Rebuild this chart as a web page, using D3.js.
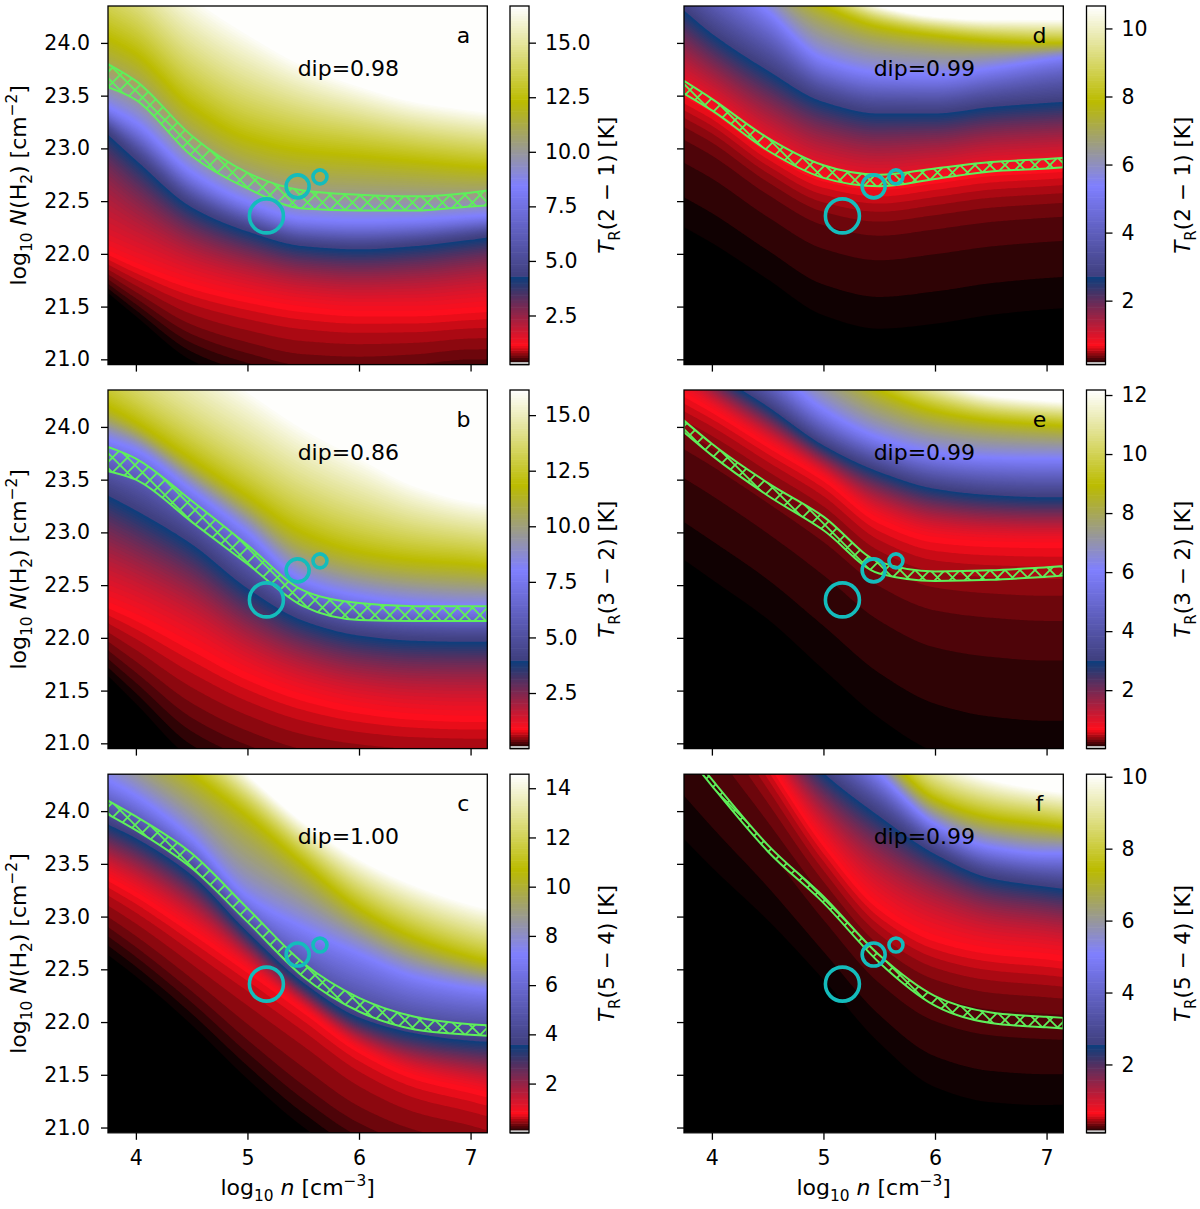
<!DOCTYPE html>
<html><head><meta charset="utf-8">
<script src="https://cdn.jsdelivr.net/npm/d3@7"></script>
<style>
body{margin:0;background:#fff}
svg{display:block}
text{font-family:"DejaVu Sans",sans-serif;fill:#000}
</style>
</head><body>
<svg id="fig" width="1200" height="1209"></svg>
<script>
// ---------- data ----------
const xNodes = [3.75, 4.0, 4.5, 5.0, 5.5, 6.0, 6.5, 7.0, 7.15];   // log10 n nodes for the isolines
const xDomain = [3.75, 7.15];
const yDomain = [20.95, 24.35];
const xTicks = [4, 5, 6, 7];
const yTicks = [21.0, 21.5, 22.0, 22.5, 23.0, 23.5, 24.0];

// Panel a : T_R(2-1)   (isoline T levels and their log N positions at xNodes)
const levelsA = [0.33, 0.58, 1.15, 4.36, 8.47, 12.33, 16.68];
const isoA = [
  [21.66, 21.45, 21.05, 20.85, 20.72, 20.70, 20.75, 20.80, 20.80],
  [21.76, 21.58, 21.24, 21.06, 20.94, 20.92, 20.95, 21.00, 21.00],
  [22.00, 21.88, 21.68, 21.55, 21.46, 21.42, 21.42, 21.45, 21.46],
  [23.14, 22.90, 22.45, 22.22, 22.08, 22.05, 22.08, 22.14, 22.16],
  [23.40, 23.25, 22.78, 22.50, 22.34, 22.32, 22.33, 22.36, 22.37],
  [24.05, 23.90, 23.40, 23.10, 22.98, 22.93, 22.88, 22.83, 22.82],
  [25.10, 24.90, 24.45, 24.10, 23.80, 23.60, 23.45, 23.37, 23.35]
];
const bandHiA = [23.80, 23.64, 23.12, 22.77, 22.60, 22.56, 22.545, 22.58, 22.60];
const bandLoA = [23.58, 23.46, 22.93, 22.62, 22.43, 22.41, 22.41, 22.45, 22.46];

// Panel b : T_R(3-2)
const levelsB = [0.08, 0.32, 0.89, 4.03, 8.07, 11.86, 16.13];
const isoB = [
  [21.70, 21.45, 20.95, 20.70, 20.55, 20.50, 20.50, 20.50, 20.50],
  [21.88, 21.67, 21.24, 20.98, 20.81, 20.74, 20.72, 20.72, 20.72],
  [22.30, 22.18, 21.90, 21.62, 21.42, 21.30, 21.24, 21.22, 21.22],
  [23.36, 23.22, 22.90, 22.48, 22.17, 22.03, 21.98, 21.97, 21.97],
  [23.88, 23.78, 23.40, 23.00, 22.55, 22.40, 22.33, 22.30, 22.30],
  [24.20, 24.05, 23.70, 23.35, 23.00, 22.82, 22.74, 22.70, 22.68],
  [25.30, 25.10, 24.70, 24.35, 24.00, 23.72, 23.45, 23.30, 23.28]
];
const bandHiB = [23.81, 23.70, 23.30, 22.88, 22.45, 22.33, 22.30, 22.30, 22.30];
const bandLoB = [23.58, 23.50, 23.10, 22.70, 22.30, 22.17, 22.16, 22.16, 22.16];

// Panel c : T_R(5-4)
const levelsC = [0.07, 0.29, 0.80, 3.64, 7.29, 10.71, 14.57];
const isoC = [
  [22.70, 22.50, 22.05, 21.55, 21.10, 20.75, 20.55, 20.45, 20.42],
  [22.90, 22.71, 22.29, 21.83, 21.40, 21.04, 20.83, 20.72, 20.68],
  [23.35, 23.20, 22.85, 22.48, 22.10, 21.72, 21.47, 21.34, 21.30],
  [23.88, 23.75, 23.40, 22.86, 22.38, 22.05, 21.90, 21.83, 21.82],
  [24.30, 24.15, 23.75, 23.20, 22.90, 22.65, 22.43, 22.32, 22.30],
  [24.90, 24.70, 24.35, 23.95, 23.50, 23.08, 22.80, 22.62, 22.58],
  [25.50, 25.30, 24.80, 24.35, 23.90, 23.55, 23.30, 23.12, 23.08]
];
const bandHiC = [24.10, 23.95, 23.60, 23.08, 22.56, 22.23, 22.05, 21.98, 21.97];
const bandLoC = [23.97, 23.82, 23.46, 22.95, 22.43, 22.10, 21.93, 21.88, 21.87];

// Panel d : T_R(2-1)
const levelsD = [0.17, 0.33, 0.70, 2.76, 5.39, 7.87, 10.66];
const isoD = [
  [22.45, 22.30, 21.95, 21.62, 21.50, 21.55, 21.63, 21.68, 21.69],
  [23.08, 22.93, 22.56, 22.27, 22.17, 22.23, 22.30, 22.34, 22.35],
  [23.50, 23.35, 22.97, 22.70, 22.62, 22.68, 22.75, 22.78, 22.79],
  [24.32, 24.10, 23.75, 23.45, 23.34, 23.34, 23.40, 23.44, 23.45],
  [24.90, 24.70, 24.30, 23.85, 23.72, 23.70, 23.76, 23.84, 23.86],
  [25.50, 25.20, 24.70, 24.35, 24.15, 24.07, 24.02, 24.00, 24.00],
  [26.00, 25.70, 25.10, 24.60, 24.35, 24.25, 24.22, 24.22, 24.22]
];
const bandHiD = [23.64, 23.47, 23.10, 22.84, 22.75, 22.81, 22.87, 22.90, 22.91];
const bandLoD = [23.52, 23.36, 22.98, 22.72, 22.64, 22.71, 22.78, 22.81, 22.82];

// Panel e : T_R(3-2)
const levelsE = [0.08, 0.26, 0.69, 3.06, 6.10, 8.95, 12.17];
const isoE = [
  [23.00, 22.82, 22.45, 22.00, 21.55, 21.25, 21.12, 21.08, 21.08],
  [23.78, 23.62, 23.27, 22.90, 22.48, 22.25, 22.18, 22.15, 22.15],
  [24.30, 24.15, 23.82, 23.50, 23.10, 22.92, 22.88, 22.87, 22.87],
  [24.80, 24.55, 24.20, 23.83, 23.58, 23.42, 23.36, 23.34, 23.34],
  [25.30, 25.00, 24.60, 24.17, 23.90, 23.76, 23.71, 23.70, 23.70],
  [26.00, 25.70, 25.10, 24.70, 24.35, 24.15, 24.06, 24.02, 24.01],
  [26.50, 26.20, 25.60, 25.10, 24.70, 24.45, 24.30, 24.25, 24.24]
];
const bandHiE = [24.06, 23.84, 23.47, 23.15, 22.72, 22.63, 22.64, 22.67, 22.68];
const bandLoE = [23.95, 23.73, 23.35, 23.02, 22.61, 22.54, 22.55, 22.58, 22.59];

// Panel f : T_R(5-4)
const levelsF = [0.15, 0.30, 0.65, 2.59, 5.09, 7.43, 10.07];
const isoF = [
  [24.04, 23.75, 23.20, 22.60, 22.00, 21.60, 21.46, 21.43, 21.43],
  [24.95, 24.60, 23.90, 23.19, 22.59, 22.25, 22.12, 22.08, 22.07],
  [25.70, 25.30, 24.47, 23.68, 23.08, 22.78, 22.66, 22.61, 22.59],
  [26.00, 25.60, 24.90, 24.37, 23.96, 23.60, 23.37, 23.29, 23.27],
  [26.40, 26.00, 25.30, 24.80, 24.35, 23.88, 23.66, 23.60, 23.60],
  [26.80, 26.40, 25.70, 25.15, 24.60, 24.12, 23.94, 23.87, 23.85],
  [27.30, 26.90, 26.20, 25.60, 25.05, 24.50, 24.30, 24.20, 24.18]
];
const bandHiF = [24.63, 24.30, 23.68, 23.19, 22.635, 22.245, 22.09, 22.05, 22.04];
const bandLoF = [24.57, 24.24, 23.62, 23.13, 22.565, 22.155, 21.99, 21.95, 21.94];

// colour ranges of the colour bars
const cbRanges = [[0.25, 16.68], [0.0, 16.13], [0.0, 14.57], [0.12, 10.66], [0.02, 12.17], [0.1, 10.07]];
const cbTickSets = [
  [2.5, 5.0, 7.5, 10.0, 12.5, 15.0],
  [2.5, 5.0, 7.5, 10.0, 12.5, 15.0],
  [2, 4, 6, 8, 10, 12, 14],
  [2, 4, 6, 8, 10],
  [2, 4, 6, 8, 10, 12],
  [2, 4, 6, 8, 10]
];
const cbFormats = [".1f", ".1f", "d", "d", "d", "d"];
const transitions = ["2 − 1", "3 − 2", "5 − 4", "2 − 1", "3 − 2", "5 − 4"];
const dips = ["0.98", "0.86", "1.00", "0.99", "0.99", "0.99"];
const panelLetters = ["a", "b", "c", "d", "e", "f"];

// observed positions (circles)
const circleX = [5.17, 5.45, 5.65];
const circleY = [22.36, 22.64, 22.73];

// ---------- styling / layout ----------
const colX0 = [108, 684], axW = 379.3;
const rowY0 = [6, 390, 774.2], axH = 358.6;
const cbX0 = [510, 1086.5], cbW = 19;
const circleR = [17, 11.5, 7];
const N_LEVELS = 150, GRID = 2;
const FS_TICK = 20.5, FS_LABEL = 22, FS_CB = 21.5, FS_DIP = 22;
const green = "#5ef05a", cyan = "#14bcbc";

const panels = [
  {levels: levelsA, iso: isoA, hi: bandHiA, lo: bandLoA, col: 0, row: 0},
  {levels: levelsB, iso: isoB, hi: bandHiB, lo: bandLoB, col: 0, row: 1},
  {levels: levelsC, iso: isoC, hi: bandHiC, lo: bandLoC, col: 0, row: 2},
  {levels: levelsD, iso: isoD, hi: bandHiD, lo: bandLoD, col: 1, row: 0},
  {levels: levelsE, iso: isoE, hi: bandHiE, lo: bandLoE, col: 1, row: 1},
  {levels: levelsF, iso: isoF, hi: bandHiF, lo: bandLoF, col: 1, row: 2}
];

// matplotlib gist_stern colormap
function gistStern(t) {
  t = Math.max(0, Math.min(1, t));
  let r;
  if (t < 0.0547) r = t / 0.0547;
  else if (t < 0.25) r = 1 + (t - 0.0547) * (0.027 - 1) / (0.25 - 0.0547);
  else r = t;
  const g = t;
  let b;
  if (t < 0.5) b = 2 * t;
  else if (t < 0.735) b = 1 - (t - 0.5) / 0.235;
  else b = (t - 0.735) / 0.265;
  return d3.rgb(r * 255, g * 255, b * 255).formatHex();
}

// monotone cubic (Fritsch-Carlson) through given nodes, linear extrapolation outside
function monotone(xs, ys) {
  const n = xs.length, h = [], d = [], m = new Array(n);
  for (let i = 0; i < n - 1; i++) { h[i] = xs[i + 1] - xs[i]; d[i] = (ys[i + 1] - ys[i]) / h[i]; }
  m[0] = d[0]; m[n - 1] = d[n - 2];
  for (let i = 1; i < n - 1; i++) {
    if (d[i - 1] * d[i] <= 0) m[i] = 0;
    else { const w1 = 2 * h[i] + h[i - 1], w2 = h[i] + 2 * h[i - 1]; m[i] = (w1 + w2) / (w1 / d[i - 1] + w2 / d[i]); }
  }
  return x => {
    if (x <= xs[0]) return ys[0] + (x - xs[0]) * m[0];
    if (x >= xs[n - 1]) return ys[n - 1] + (x - xs[n - 1]) * m[n - 1];
    let i = 0; while (x > xs[i + 1]) i++;
    const t = (x - xs[i]) / h[i], t2 = t * t, t3 = t2 * t;
    return (2 * t3 - 3 * t2 + 1) * ys[i] + (t3 - 2 * t2 + t) * h[i] * m[i] + (-2 * t3 + 3 * t2) * ys[i + 1] + (t3 - t2) * h[i] * m[i + 1];
  };
}

const svg = d3.select("#fig");
const defs = svg.append("defs");
const hatch = defs.append("pattern").attr("id", "hatch").attr("patternUnits", "userSpaceOnUse")
  .attr("width", 15).attr("height", 15);
hatch.append("path").attr("d", "M-2,-2L17,17M-2,17L17,-2M-2,13L2,17M13,-2L17,2M-2,2L2,-2M13,17L17,13")
  .attr("stroke", green).attr("stroke-width", 1.8).attr("fill", "none");

function richText(sel, parts, fs) {
  let shift = 0;
  parts.forEach(p => {
    const target = p.sub ? fs * 0.28 : p.sup ? -fs * 0.42 : 0;
    const ts = sel.append("tspan").text(p.t)
      .attr("font-size", (p.sub || p.sup) ? fs * 0.7 : fs)
      .attr("dy", target - shift);
    if (p.it) ts.attr("font-style", "italic");
    shift = target;
  });
}

panels.forEach((p, idx) => {
  const x0 = colX0[p.col], y0 = rowY0[p.row];
  const [vmin, vmax] = cbRanges[idx];
  const xS = d3.scaleLinear().domain(xDomain).range([x0, x0 + axW]);
  const yS = d3.scaleLinear().domain(yDomain).range([y0 + axH, y0]);
  const color = d3.scaleSequential(gistStern).domain([vmin, vmax]);
  const step = (vmax - vmin) / N_LEVELS;
  const thresholds = d3.range(N_LEVELS).map(k => vmin + k * step);

  const clipId = "clip" + idx;
  defs.append("clipPath").attr("id", clipId).append("rect")
    .attr("x", x0).attr("y", y0).attr("width", axW).attr("height", axH);

  const g = svg.append("g");
  const field = g.append("g").attr("clip-path", `url(#${clipId})`);
  field.append("rect").attr("x", x0).attr("y", y0).attr("width", axW).attr("height", axH)
    .attr("fill", color(vmin));

  // build the T field on a grid from the isolines
  const nx = Math.ceil(axW / GRID), ny = Math.ceil(axH / GRID);
  const gx = d3.scaleLinear().domain([0, nx]).range([x0, x0 + axW]);
  const gy = d3.scaleLinear().domain([0, ny]).range([y0, y0 + axH]);
  const isoFns = p.iso.map(row => monotone(xNodes, row));
  const values = new Float64Array(nx * ny);
  for (let i = 0; i < nx; i++) {
    const xv = xS.invert(gx(i + 0.5));
    const ys = isoFns.map(f => f(xv));
    for (let k = 1; k < ys.length; k++) if (ys[k] <= ys[k - 1] + 0.01) ys[k] = ys[k - 1] + 0.01;
    const tf = monotone(ys, p.levels);
    for (let j = 0; j < ny; j++) {
      const yv = yS.invert(gy(j + 0.5));
      let t = tf(yv);
      if (yv > ys[ys.length - 1]) t = vmax;
      t = Math.min(t, vmax - 1e-6);
      values[i + j * nx] = t;
    }
  }
  const contours = d3.contours().size([nx, ny]).thresholds(thresholds)(values);
  const path = d3.geoPath(d3.geoTransform({point(x, y) { this.stream.point(gx(x), gy(y)); }}));
  field.selectAll("path.lvl").data(contours).join("path").attr("class", "lvl")
    .attr("d", path).attr("fill", d => color(d.value + step / 2));

  // hatched band
  const bandData = xNodes.map((x, k) => ({x, lo: p.lo[k], hi: p.hi[k]}));
  const area = d3.area().x(d => xS(d.x)).y0(d => yS(d.lo)).y1(d => yS(d.hi)).curve(d3.curveMonotoneX);
  field.append("path").attr("d", area(bandData)).attr("fill", "url(#hatch)")
    .attr("stroke", green).attr("stroke-width", 2);

  // circles
  field.selectAll("circle").data(circleX).join("circle")
    .attr("cx", (d) => xS(d)).attr("cy", (d, k) => yS(circleY[k])).attr("r", (d, k) => circleR[k])
    .attr("fill", "none").attr("stroke", cyan).attr("stroke-width", 3.6);

  // texts in the axes
  g.append("text").attr("x", x0 + 0.5 * axW).attr("y", y0 + 0.196 * axH).attr("font-size", FS_DIP)
    .text("dip=" + dips[idx]);
  g.append("text").attr("x", x0 + 0.937 * axW).attr("y", y0 + 0.102 * axH).attr("font-size", FS_DIP)
    .attr("text-anchor", "middle").text(panelLetters[idx]);

  // frame
  g.append("rect").attr("x", x0).attr("y", y0).attr("width", axW).attr("height", axH)
    .attr("fill", "none").attr("stroke", "#000").attr("stroke-width", 1.3);

  // axes
  const xAx = d3.axisBottom(xS).tickValues(xTicks).tickSize(7).tickPadding(11)
    .tickFormat(p.row === 2 ? d3.format("d") : () => "");
  const xg = g.append("g").attr("transform", `translate(0,${y0 + axH})`).call(xAx);
  const yAx = d3.axisLeft(yS).tickValues(yTicks).tickSize(7).tickPadding(11)
    .tickFormat(p.col === 0 ? d3.format(".1f") : () => "");
  const yg = g.append("g").attr("transform", `translate(${x0},0)`).call(yAx);
  [xg, yg].forEach(a => {
    a.select(".domain").remove();
    a.attr("font-size", FS_TICK).attr("font-family", "DejaVu Sans");
    a.selectAll("line").attr("stroke-width", 1.3);
  });

  // colour bar
  const cx0 = cbX0[p.col];
  const cbS = d3.scaleLinear().domain([vmin, vmax]).range([y0 + axH, y0]);
  const cb = svg.append("g");
  cb.selectAll("rect.band").data(thresholds).join("rect").attr("class", "band")
    .attr("x", cx0).attr("width", cbW)
    .attr("y", d => cbS(d + step)).attr("height", d => cbS(d) - cbS(d + step) + 0.6)
    .attr("fill", d => color(d + step / 2));
  cb.append("rect").attr("x", cx0).attr("y", y0 + axH - 2.5).attr("width", cbW).attr("height", 2.5)
    .attr("fill", "#c8c8c8");
  cb.append("rect").attr("x", cx0).attr("y", y0).attr("width", cbW).attr("height", axH)
    .attr("fill", "none").attr("stroke", "#000").attr("stroke-width", 1.3);
  const cAx = d3.axisRight(cbS).tickValues(cbTickSets[idx]).tickSize(7).tickPadding(9)
    .tickFormat(d3.format(cbFormats[idx]));
  const cg = cb.append("g").attr("transform", `translate(${cx0 + cbW},0)`).call(cAx);
  cg.select(".domain").remove();
  cg.attr("font-size", FS_TICK).attr("font-family", "DejaVu Sans");
  cg.selectAll("line").attr("stroke-width", 1.3);

  // colour bar label
  const cbl = svg.append("text").attr("text-anchor", "middle")
    .attr("transform", `translate(${p.col === 0 ? 614 : 1190},${y0 + axH / 2}) rotate(-90)`);
  richText(cbl, [{t: "T", it: true}, {t: "R", sub: true}, {t: "(" + transitions[idx] + ") [K]"}], FS_CB);

  // y label (left column)
  if (p.col === 0) {
    const yl = svg.append("text").attr("text-anchor", "middle")
      .attr("transform", `translate(26,${y0 + axH / 2}) rotate(-90)`);
    richText(yl, [{t: "log"}, {t: "10", sub: true}, {t: " "}, {t: "N", it: true}, {t: "(H"},
      {t: "2", sub: true}, {t: ") [cm"}, {t: "−2", sup: true}, {t: "]"}], FS_LABEL);
  }
  // x label (bottom row)
  if (p.row === 2) {
    const xl = svg.append("text").attr("text-anchor", "middle")
      .attr("x", x0 + axW / 2).attr("y", 1195);
    richText(xl, [{t: "log"}, {t: "10", sub: true}, {t: " "}, {t: "n", it: true}, {t: " [cm"},
      {t: "−3", sup: true}, {t: "]"}], FS_LABEL);
  }
});
</script>
</body></html>
